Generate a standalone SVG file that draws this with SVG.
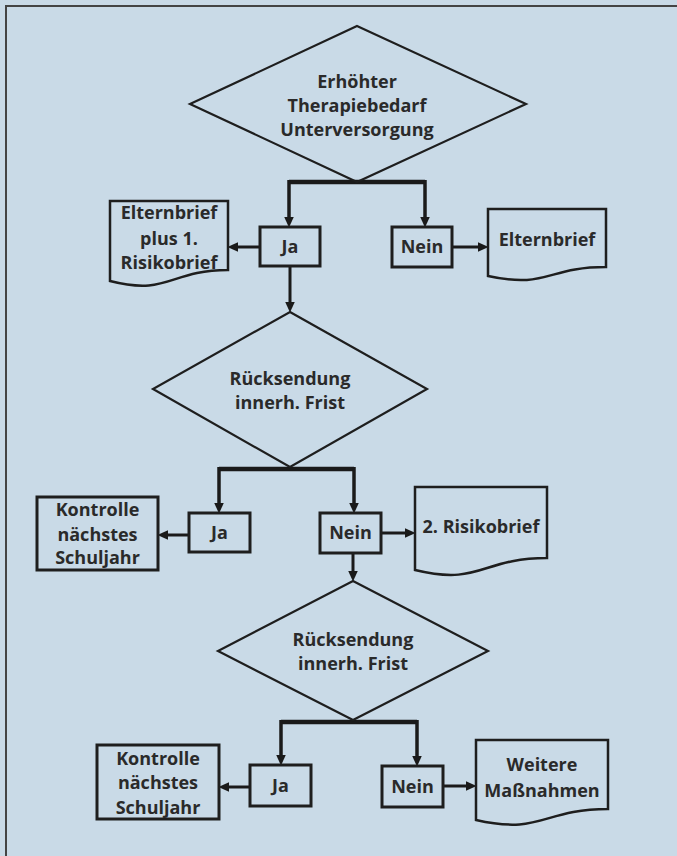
<svg xmlns="http://www.w3.org/2000/svg" width="677" height="856" viewBox="0 0 677 856">
<style>
.shape{fill:none;stroke:#1e1e1e;}
.dia{stroke-width:2.2;}
.box{stroke-width:3;}
.doc{stroke-width:2.5;}
.t{font-family:"Open Sans","Liberation Sans",sans-serif;font-weight:700;font-size:18px;fill:#2a2a2a;text-anchor:middle;}
.c{fill:none;stroke:#1a1a1a;stroke-linejoin:miter;}
.thick{stroke-width:4.5;}
.mid{stroke-width:3.5;}
.thin{stroke-width:3;}
</style>
<defs>
<marker id="ah" markerUnits="userSpaceOnUse" viewBox="0 0 10 10" markerWidth="11" markerHeight="11" refX="4" refY="5" orient="auto">
<path d="M0,0.5 L10,5 L0,9.5 Z" fill="#1a1a1a"/>
</marker>
</defs>
<rect x="0" y="0" width="677" height="856" fill="#c9dae7"/>
<path d="M6,856 V6 H677" fill="none" stroke="#444" stroke-width="2"/>

<g id="connectors">
<path class="c thick" d="M289,182 H425"/>
<path class="c mid" d="M289,180 V221" marker-end="url(#ah)"/>
<path class="c mid" d="M425,180 V221" marker-end="url(#ah)"/>
<path class="c thin" d="M260,247 H234" marker-end="url(#ah)"/>
<path class="c thin" d="M452,247 H482" marker-end="url(#ah)"/>
<path class="c thin" d="M290,266 V306" marker-end="url(#ah)"/>
<path class="c thick" d="M219,469 H354"/>
<path class="c mid" d="M219,467 V507" marker-end="url(#ah)"/>
<path class="c mid" d="M354,467 V507" marker-end="url(#ah)"/>
<path class="c thin" d="M189,535 H164" marker-end="url(#ah)"/>
<path class="c thin" d="M381,533 H409" marker-end="url(#ah)"/>
<path class="c thin" d="M353,553 V575" marker-end="url(#ah)"/>
<path class="c thick" d="M281,722 H417"/>
<path class="c mid" d="M281,720 V759" marker-end="url(#ah)"/>
<path class="c mid" d="M417,720 V760" marker-end="url(#ah)"/>
<path class="c thin" d="M250,787 H225" marker-end="url(#ah)"/>
<path class="c thin" d="M443,786 H470" marker-end="url(#ah)"/>
</g>

<g id="d1">
<polygon class="shape dia" points="357,26 526,104 357,182 190,104"/>
<text class="t" x="357" y="88">Erhöhter</text>
<text class="t" x="357" y="112">Therapiebedarf</text>
<text class="t" x="357" y="136">Unterversorgung</text>
</g>
<g id="ja1">
<rect class="shape box" x="260" y="227" width="60" height="39"/>
<text class="t" x="290" y="253">Ja</text>
</g>
<g id="nein1">
<rect class="shape box" x="392" y="227" width="60" height="40"/>
<text class="t" x="422" y="253">Nein</text>
</g>
<g id="doc1">
<path class="shape doc" d="M110,201 H228 V270 C169,270 169,296 110,281 Z"/>
<text class="t" x="169" y="219">Elternbrief</text>
<text class="t" x="169" y="245">plus 1.</text>
<text class="t" x="169" y="269">Risikobrief</text>
</g>
<g id="doc2">
<path class="shape doc" d="M488,209 H606 V267 C547,267 547,289 488,276 Z"/>
<text class="t" x="547" y="246">Elternbrief</text>
</g>

<g id="d2">
<polygon class="shape dia" points="290,312 427,389 290,467 153,389"/>
<text class="t" x="290" y="385">Rücksendung</text>
<text class="t" x="290" y="409">innerh. Frist</text>
</g>
<g id="ja2">
<rect class="shape box" x="189" y="513" width="61" height="39"/>
<text class="t" x="219.5" y="539">Ja</text>
</g>
<g id="nein2">
<rect class="shape box" x="320" y="513" width="61" height="40"/>
<text class="t" x="350.5" y="539">Nein</text>
</g>
<g id="kontrolle2">
<rect class="shape box" x="37" y="497" width="121" height="73"/>
<text class="t" x="97.5" y="516">Kontrolle</text>
<text class="t" x="97.5" y="541">nächstes</text>
<text class="t" x="97.5" y="564">Schuljahr</text>
</g>
<g id="doc3">
<path class="shape doc" d="M415,487 H547 V558 C481,558 481,586 415,570 Z"/>
<text class="t" x="481" y="533">2. Risikobrief</text>
</g>

<g id="d3">
<polygon class="shape dia" points="353,581 488,651 353,720 218,651"/>
<text class="t" x="353" y="646">Rücksendung</text>
<text class="t" x="353" y="670">innerh. Frist</text>
</g>
<g id="ja3">
<rect class="shape box" x="250" y="765" width="61" height="41"/>
<text class="t" x="280.5" y="792">Ja</text>
</g>
<g id="nein3">
<rect class="shape box" x="382" y="766" width="61" height="41"/>
<text class="t" x="412.5" y="793">Nein</text>
</g>
<g id="kontrolle3">
<rect class="shape box" x="97" y="745" width="122" height="74"/>
<text class="t" x="158" y="765">Kontrolle</text>
<text class="t" x="158" y="789">nächstes</text>
<text class="t" x="158" y="814">Schuljahr</text>
</g>
<g id="doc4">
<path class="shape doc" d="M476,740 H608 V809 C542,809 542,835 476,820 Z"/>
<text class="t" x="542" y="771">Weitere</text>
<text class="t" x="542" y="797">Maßnahmen</text>
</g>
</svg>
